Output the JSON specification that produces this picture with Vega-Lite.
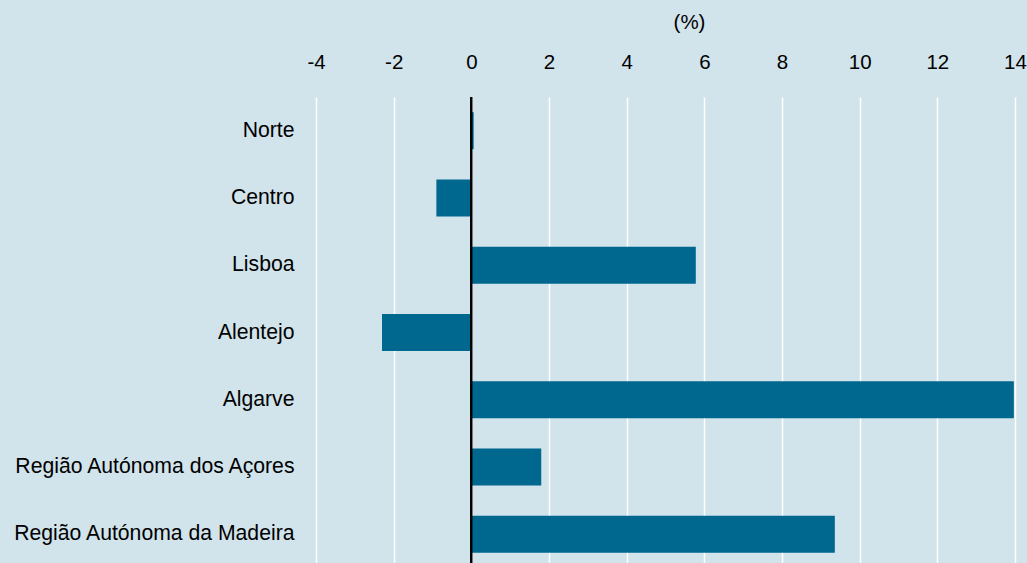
{
  "$schema": "https://vega.github.io/schema/vega-lite/v6.json",
  "autosize": {"type": "none"},
  "padding": {"left": 316, "top": 97, "right": 12, "bottom": 0},
  "width": 699,
  "height": 471,
  "background": "#d1e3eb",
  "config": {
    "view": {"stroke": null, "fill": "#d1e3eb"},
    "font": "Liberation Sans"
  },
  "data": {
    "values": [
      {"region": "Norte", "value": 0.06},
      {"region": "Centro", "value": -0.9},
      {"region": "Lisboa", "value": 5.78},
      {"region": "Alentejo", "value": -2.3},
      {"region": "Algarve", "value": 13.97},
      {"region": "Região Autónoma dos Açores", "value": 1.8},
      {"region": "Região Autónoma da Madeira", "value": 9.36}
    ]
  },
  "layer": [
    {
      "mark": {"type": "bar", "color": "#00678f"},
      "encoding": {
        "y": {
          "field": "region",
          "type": "nominal",
          "sort": null,
          "scale": {"paddingInner": 0.45, "paddingOuter": 0.225},
          "axis": {
            "title": null,
            "domain": false,
            "ticks": false,
            "tickSize": 0,
            "grid": false,
            "labelPadding": 22,
            "labelLimit": 0,
            "labelFontSize": 21.2,
            "labelColor": "#000000",
            "labelFont": "Liberation Sans"
          }
        },
        "x": {
          "field": "value",
          "type": "quantitative",
          "scale": {"domain": [-4, 14], "nice": false},
          "axis": {
            "orient": "top",
            "values": [-4, -2, 0, 2, 4, 6, 8, 10, 12, 14],
            "labelExpr": "datum.value < 0 ? '-' + abs(datum.value) : '' + datum.value",
            "title": "(%)",
            "titleFontSize": 20.5,
            "titleFontWeight": "normal",
            "titleColor": "#000000",
            "titleFont": "Liberation Sans",
            "titleX": 373,
            "titleY": -75,
            "titleAlign": "center",
            "titleBaseline": "middle",
            "titleAnchor": null,
            "domain": false,
            "ticks": false,
            "tickSize": 0,
            "labelPadding": 29,
            "labelBaseline": "alphabetic",
            "labelFontSize": 20.5,
            "labelColor": "#000000",
            "labelFont": "Liberation Sans",
            "labelFlush": false,
            "grid": true,
            "gridColor": "#ffffff",
            "gridWidth": 1.5,
            "gridOpacity": 1
          }
        }
      }
    },
    {
      "mark": {"type": "rule", "color": "#000000", "strokeWidth": 1.5},
      "encoding": {"x": {"datum": 0, "type": "quantitative"}}
    }
  ]
}
